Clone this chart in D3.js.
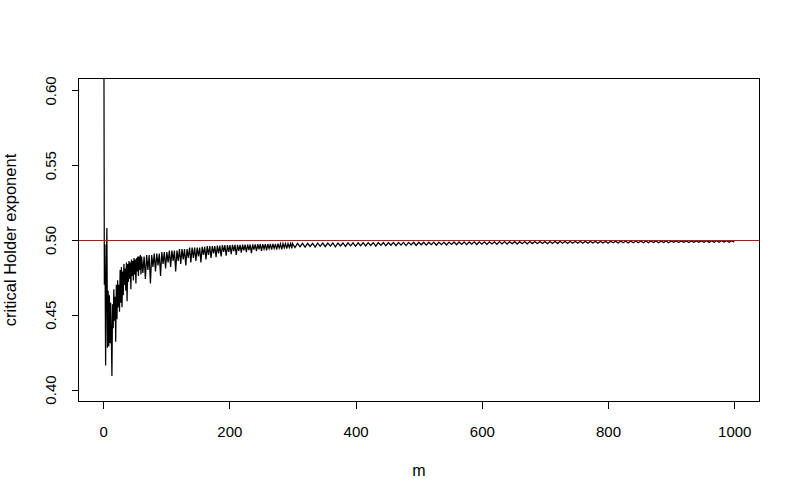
<!DOCTYPE html>
<html lang="en">
<head>
<meta charset="UTF-8">
<title>critical Holder exponent</title>
<script src="https://d3js.org/d3.v7.min.js"></script>
<style>
  body { margin: 0; background: #fff; }
  text { font-family: "Liberation Sans", Arial, sans-serif; fill: #000; }
</style>
</head>
<body>
<div id="chart"></div>
<script>
// exponent for m = 1..60 (one value per m)
var holderEarly = [
  0.700, 0.470, 0.497, 0.416, 0.471, 0.508, 0.428, 0.466, 0.429, 0.463,
  0.431, 0.458, 0.436, 0.409, 0.457, 0.441, 0.467, 0.446, 0.462, 0.432,
  0.470, 0.447, 0.473, 0.455, 0.470, 0.452, 0.480, 0.458, 0.482, 0.455,
  0.479, 0.463, 0.484, 0.470, 0.481, 0.466, 0.485, 0.459, 0.484, 0.472,
  0.486, 0.474, 0.485, 0.467, 0.487, 0.476, 0.486, 0.473, 0.488, 0.477,
  0.487, 0.471, 0.488, 0.479, 0.489, 0.476, 0.489, 0.480, 0.490, 0.477
];
// exponent read every 2nd m, m = 61..299
var holderMid = [
  0.489, 0.478, 0.489, 0.474, 0.490, 0.480, 0.490, 0.471, 0.490, 0.482,
  0.491, 0.479, 0.491, 0.483, 0.491, 0.476, 0.492, 0.484, 0.492, 0.481,
  0.492, 0.485, 0.493, 0.482, 0.493, 0.486, 0.493, 0.479, 0.493, 0.486,
  0.494, 0.484, 0.494, 0.487, 0.494, 0.483, 0.494, 0.488, 0.495, 0.485,
  0.495, 0.488, 0.495, 0.486, 0.495, 0.489, 0.495, 0.485, 0.4955, 0.490,
  0.4955, 0.487, 0.496, 0.490, 0.496, 0.488, 0.496, 0.491, 0.496, 0.4885,
  0.4963, 0.491, 0.4963, 0.489, 0.4965, 0.492, 0.4965, 0.4895, 0.4966, 0.492,
  0.4966, 0.4905, 0.4967, 0.4925, 0.4967, 0.490, 0.4968, 0.4928, 0.4968, 0.4915,
  0.4969, 0.493, 0.4969, 0.4918, 0.497, 0.4932, 0.497, 0.4912, 0.4971, 0.4935,
  0.4971, 0.4925, 0.4972, 0.4938, 0.4972, 0.4928, 0.4972, 0.494, 0.4973, 0.4930,
  0.4973, 0.4942, 0.4974, 0.4935, 0.4974, 0.4944, 0.4974, 0.4936, 0.4975, 0.4946,
  0.4975, 0.4938, 0.4976, 0.4948, 0.4976, 0.4942, 0.4976, 0.4950, 0.4977, 0.4944
];
// exponent read every 4th m, m = 300..1000
var holderLate = [
  0.4977, 0.4950, 0.4977, 0.4955, 0.4978, 0.4952, 0.4978, 0.4957, 0.4978, 0.4953,
  0.4979, 0.4958, 0.4979, 0.4955, 0.4979, 0.4959, 0.4980, 0.4954, 0.4980, 0.4960,
  0.4980, 0.4957, 0.4981, 0.4961, 0.4981, 0.4958, 0.4981, 0.4962, 0.4982, 0.4960,
  0.4982, 0.4963, 0.4982, 0.4959, 0.4983, 0.4964, 0.4983, 0.4961, 0.4983, 0.4965,
  0.4984, 0.4962, 0.4984, 0.4966, 0.4984, 0.4963, 0.4984, 0.4967, 0.4985, 0.4964,
  0.4985, 0.4968, 0.4985, 0.4966, 0.4985, 0.4969, 0.4986, 0.4965, 0.4986, 0.4969,
  0.4986, 0.4967, 0.4986, 0.4970, 0.4987, 0.4968, 0.4987, 0.4971, 0.4987, 0.4969,
  0.4987, 0.4972, 0.4988, 0.4970, 0.4988, 0.4972, 0.4988, 0.4971, 0.4988, 0.4973,
  0.4988, 0.4971, 0.4989, 0.4974, 0.4989, 0.4972, 0.4989, 0.4975, 0.4989, 0.4973,
  0.4989, 0.4975, 0.4990, 0.4974, 0.4990, 0.4976, 0.4990, 0.4975, 0.4990, 0.4977,
  0.4990, 0.4975, 0.4990, 0.4977, 0.4991, 0.4976, 0.4991, 0.4978, 0.4991, 0.4977,
  0.4991, 0.4979, 0.4991, 0.4978, 0.4991, 0.4979, 0.4992, 0.4978, 0.4992, 0.4980,
  0.4992, 0.4979, 0.4992, 0.4980, 0.4992, 0.4979, 0.4992, 0.4981, 0.4992, 0.4980,
  0.4993, 0.4981, 0.4993, 0.4980, 0.4993, 0.4982, 0.4993, 0.4981, 0.4993, 0.4982,
  0.4993, 0.4981, 0.4993, 0.4983, 0.4993, 0.4982, 0.4994, 0.4983, 0.4994, 0.4982,
  0.4994, 0.4984, 0.4994, 0.4983, 0.4994, 0.4984, 0.4994, 0.4983, 0.4994, 0.4985,
  0.4994, 0.4984, 0.4994, 0.4985, 0.4995, 0.4984, 0.4995, 0.4985, 0.4995, 0.4985,
  0.4995, 0.4986, 0.4995, 0.4985, 0.4995, 0.4986
];
var refLevel = 0.5;
var xTicks = [0, 200, 400, 600, 800, 1000];
var yTicks = [0.40, 0.45, 0.50, 0.55, 0.60];

// m positions of the readings
var series = [];
holderEarly.forEach(function(v, i) { series.push({m: 1 + i, v: v}); });
holderMid.forEach(function(v, i) { series.push({m: 61 + 2 * i, v: v}); });
holderLate.forEach(function(v, i) { series.push({m: 300 + 4 * i, v: v}); });

var W = 800, H = 500;
var box = {left: 78.5, right: 759.5, top: 78.5, bottom: 401.5};

var svg = d3.select("#chart").append("svg")
  .attr("width", W)
  .attr("height", H);

// R style: 4% padding around the data range
var x = d3.scaleLinear()
  .domain([1 - 0.04 * 999, 1000 + 0.04 * 999])
  .range([box.left, box.right]);
var y = d3.scaleLinear()
  .domain([0.4 - 0.04 * 0.2, 0.6 + 0.04 * 0.2])
  .range([box.bottom, box.top]);

svg.append("clipPath").attr("id", "plotClip")
  .append("rect")
  .attr("x", box.left).attr("y", box.top)
  .attr("width", box.right - box.left)
  .attr("height", box.bottom - box.top);

// data line
svg.append("path")
  .datum(series)
  .attr("clip-path", "url(#plotClip)")
  .attr("fill", "none")
  .attr("stroke", "#000")
  .attr("stroke-width", 1.25)
  .attr("d", d3.line()
    .x(function(d) { return x(d.m); })
    .y(function(d) { return y(d.v); }));

// reference line at 0.5
svg.append("line")
  .attr("x1", box.left).attr("x2", box.right)
  .attr("y1", Math.round(y(refLevel)) + 0.5)
  .attr("y2", Math.round(y(refLevel)) + 0.5)
  .attr("stroke", "#e00000")
  .attr("stroke-width", 1)
  .attr("shape-rendering", "crispEdges");

// box
svg.append("rect")
  .attr("x", box.left).attr("y", box.top)
  .attr("width", box.right - box.left)
  .attr("height", box.bottom - box.top)
  .attr("fill", "none")
  .attr("stroke", "#000")
  .attr("shape-rendering", "crispEdges");

// x axis
var xAxis = svg.append("g")
  .attr("transform", "translate(0," + box.bottom + ")")
  .call(d3.axisBottom(x).tickValues(xTicks).tickSize(7).tickPadding(18)
    .tickFormat(d3.format("d")));
xAxis.select(".domain").remove();
xAxis.selectAll("line").attr("shape-rendering", "crispEdges");
xAxis.selectAll("text")
  .style("font-family", "Liberation Sans, Arial, sans-serif")
  .style("font-size", "15px");

// y axis, labels turned like R
var yAxis = svg.append("g")
  .attr("transform", "translate(" + box.left + ",0)")
  .call(d3.axisLeft(y).tickValues(yTicks).tickSize(7)
    .tickFormat(d3.format(".2f")));
yAxis.select(".domain").remove();
yAxis.selectAll("line").attr("shape-rendering", "crispEdges");
yAxis.selectAll("text")
  .attr("transform", "rotate(-90)")
  .attr("x", 0)
  .attr("y", -23)
  .attr("dy", 0)
  .attr("text-anchor", "middle")
  .style("font-family", "Liberation Sans, Arial, sans-serif")
  .style("font-size", "15px");

// axis titles
svg.append("text")
  .attr("x", (box.left + box.right) / 2)
  .attr("y", 476)
  .attr("text-anchor", "middle")
  .style("font-size", "16px")
  .text("m");

svg.append("text")
  .attr("transform", "translate(16," + ((box.top + box.bottom) / 2) + ") rotate(-90)")
  .attr("text-anchor", "middle")
  .style("font-size", "16.5px")
  .text("critical Holder exponent");
</script>
</body>
</html>
